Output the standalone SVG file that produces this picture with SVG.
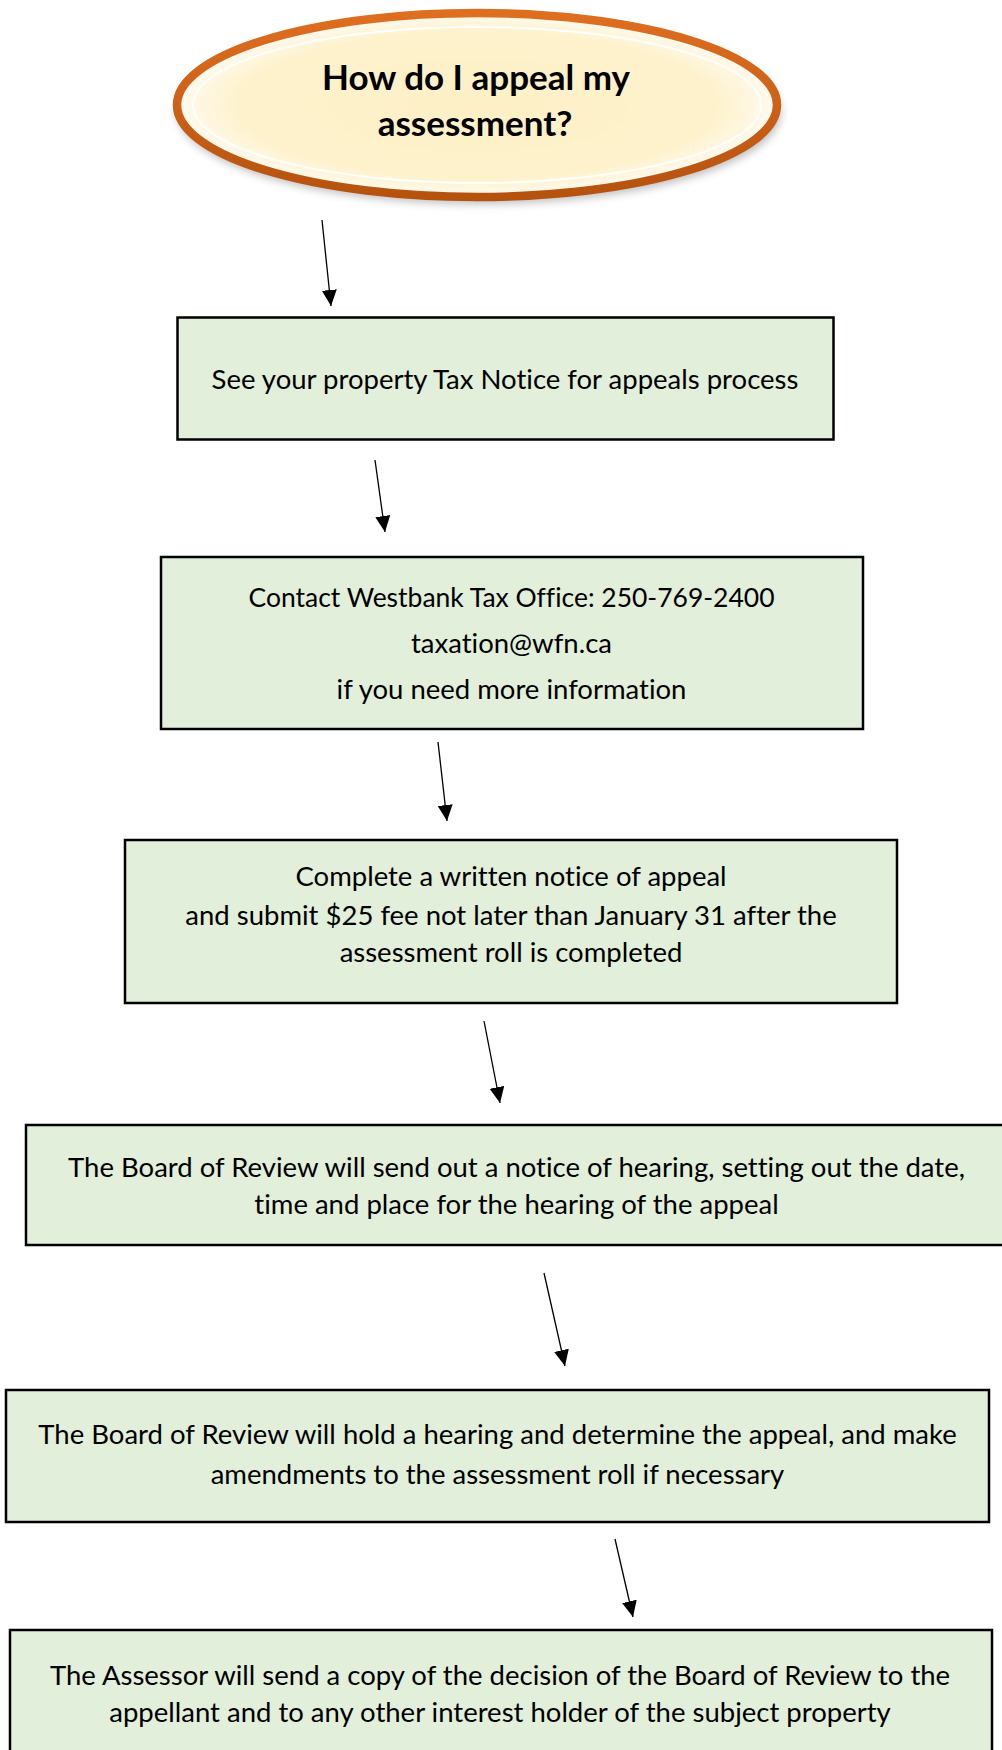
<svg xmlns="http://www.w3.org/2000/svg" width="1002" height="1750" viewBox="0 0 1002 1750">
<style>
.box{fill:#e2efda;stroke:#000;stroke-width:2.5}
.t{font-family:Lato,"Liberation Sans",sans-serif;font-size:27.5px;fill:#000;text-anchor:middle;font-variant-ligatures:none}
.title{font-family:Lato,"Liberation Sans",sans-serif;font-size:35px;font-weight:bold;fill:#000;text-anchor:middle;font-variant-ligatures:none}
.arrow{stroke:#000;stroke-width:1.3;fill:none;marker-end:url(#ah)}
</style>
<defs>
<marker id="ah" markerUnits="userSpaceOnUse" markerWidth="18" markerHeight="16" refX="16" refY="7.5" orient="auto">
<path d="M0,0 L16,7.5 L0,15 z" fill="#000"/>
</marker>
<radialGradient id="fillg" cx="0.5" cy="0.5" r="0.5">
<stop offset="0" stop-color="#fdf0c6"/>
<stop offset="0.8" stop-color="#fef2cd"/>
<stop offset="1" stop-color="#fffaf0"/>
</radialGradient>
<linearGradient id="ring" x1="0" y1="0" x2="0" y2="1">
<stop offset="0" stop-color="#de6e20"/>
<stop offset="0.5" stop-color="#cc6118"/>
<stop offset="1" stop-color="#b4520e"/>
</linearGradient>
<filter id="sh" x="-10%" y="-20%" width="120%" height="150%">
<feGaussianBlur stdDeviation="4"/>
</filter>
</defs>
<g id="start">
<ellipse cx="479" cy="112" rx="302" ry="92" fill="#8a8a8a" opacity="0.55" filter="url(#sh)"/>
<ellipse cx="477" cy="105" rx="300" ry="92" fill="url(#fillg)" stroke="url(#ring)" stroke-width="8.5"/>
<ellipse cx="477" cy="105" rx="284" ry="78" fill="none" stroke="#ffffff" stroke-width="2" opacity="0.85"/>
<text class="title" x="476" y="89.5">How do I appeal my</text>
<text class="title" x="475" y="135.5">assessment?</text>
</g>
<g id="step1">
<rect class="box" x="177.5" y="317.5" width="656" height="122"/>
<text class="t" x="505" y="389">See your property Tax Notice for appeals process</text>
</g>
<g id="step2">
<rect class="box" x="161" y="557" width="702" height="172"/>
<text class="t" x="511.5" y="607" textLength="526" lengthAdjust="spacingAndGlyphs">Contact Westbank Tax Office: 250-769-2400</text>
<text class="t" x="511.5" y="652.5">taxation@wfn.ca</text>
<text class="t" x="511.5" y="699">if you need more information</text>
</g>
<g id="step3">
<rect class="box" x="125" y="840" width="772" height="163"/>
<text class="t" x="511" y="886">Complete a written notice of appeal</text>
<text class="t" x="511" y="924.5">and submit $25 fee not later than January 31 after the</text>
<text class="t" x="511" y="961.5">assessment roll is completed</text>
</g>
<g id="step4">
<rect class="box" x="26" y="1125" width="990" height="120"/>
<text class="t" x="516.5" y="1177">The Board of Review will send out a notice of hearing, setting out the date,</text>
<text class="t" x="516.5" y="1214">time and place for the hearing of the appeal</text>
</g>
<g id="step5">
<rect class="box" x="6" y="1390" width="983" height="132"/>
<text class="t" x="497.5" y="1444">The Board of Review will hold a hearing and determine the appeal, and make</text>
<text class="t" x="497.5" y="1483.5">amendments to the assessment roll if necessary</text>
</g>
<g id="step6">
<rect class="box" x="10" y="1630" width="982" height="140"/>
<text class="t" x="500" y="1685">The Assessor will send a copy of the decision of the Board of Review to the</text>
<text class="t" x="500" y="1722">appellant and to any other interest holder of the subject property</text>
</g>
<g id="connectors">
<line class="arrow" x1="322" y1="220" x2="331" y2="306"/>
<line class="arrow" x1="375" y1="460" x2="385" y2="532"/>
<line class="arrow" x1="438" y1="742" x2="447" y2="821"/>
<line class="arrow" x1="484" y1="1021" x2="500" y2="1103"/>
<line class="arrow" x1="544" y1="1273" x2="565" y2="1366"/>
<line class="arrow" x1="615" y1="1539" x2="633" y2="1617"/>
</g>
</svg>
